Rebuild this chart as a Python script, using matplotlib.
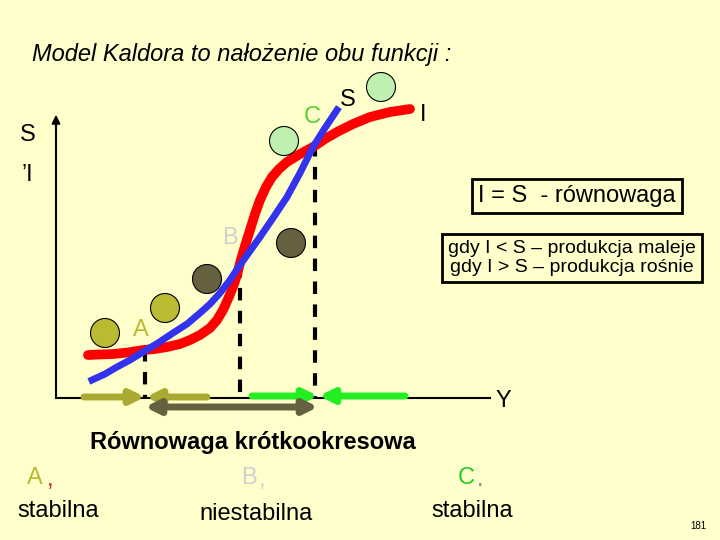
import matplotlib.pyplot as plt
from matplotlib.patches import Circle, FancyArrowPatch

plt.rcParams['font.family'] = ['Liberation Sans', 'DejaVu Sans']

bg = "#FFFFCC"

# curve I (investment) in pixel units
inv_x = [88, 100, 113, 128, 143, 155, 167, 180, 190, 200, 210, 217, 223, 228, 233, 237, 240,
         245, 250, 255, 260, 266, 272, 279, 287, 300, 313, 325, 337, 353, 370, 390, 410]
inv_y = [355, 354.5, 354, 352.5, 350, 349, 347, 344, 340, 335, 328, 320, 310, 299, 287, 275, 263,
         246, 230, 214, 200, 187, 177, 169, 162, 154, 147, 139, 132, 124, 117, 112, 109]

# curve S (savings)
sav_x = [92, 105, 117, 130, 143, 158, 173, 187, 200, 210, 220, 230, 240, 250, 260, 273, 287,
         300, 313, 325, 337]
sav_y = [380, 374, 367, 360, 352, 343, 333, 324, 313, 304, 293, 280, 265, 251, 237, 218, 197,
         173, 147, 128, 110]

# equilibrium points A, B, C
eq_x = [145, 240, 315]
eq_y = [349, 265, 144]

# balls
ball_x = [105, 165, 207, 291, 284, 381]
ball_y = [333, 308, 279, 243, 141, 87]
ball_c = ["#BBBB33", "#BBBB33", "#666040", "#666040", "#C0F0B0", "#C0F0B0"]

fig = plt.figure(figsize=(7.2, 5.4), dpi=100, facecolor=bg)
ax = fig.add_axes([0, 0, 1, 1])
ax.set_xlim(0, 720)
ax.set_ylim(540, 0)
ax.axis('off')
ax.set_facecolor(bg)

# axes
ax.plot([56, 490], [398, 398], color='black', lw=1.5)
ax.annotate('', xy=(56, 112), xytext=(56, 399),
            arrowprops=dict(arrowstyle='-|>', color='black', lw=1.5, mutation_scale=12))

# dashed drops
for x, y in zip(eq_x, eq_y):
    ax.plot([x, x], [y, 398], color='black', lw=3, ls=(0, (3, 2.5)), zorder=2)

ax.plot(inv_x, inv_y, color='#FF0000', lw=7, solid_capstyle='round',
        solid_joinstyle='round', zorder=3)
ax.plot(sav_x, sav_y, color='#3333EE', lw=5, solid_joinstyle='round', zorder=4)

for x, y, c in zip(ball_x, ball_y, ball_c):
    ax.add_patch(Circle((x, y), 14.5, facecolor=c, edgecolor='black', lw=0.8, zorder=5))

# arrows on the Y axis
def arr(x0, x1, y, color, style='-|>', lw=5):
    ax.add_patch(FancyArrowPatch((x0, y), (x1, y), arrowstyle=style, color=color,
                                 lw=lw, mutation_scale=20, shrinkA=0, shrinkB=0, zorder=6))

arr(84, 145, 397, '#AAAA33')
arr(207, 146, 397, '#AAAA33')
arr(252, 318, 396, '#22EE22')
arr(405, 319, 396, '#22EE22')
arr(145, 318, 407, '#666040', style='<|-|>')

fs = 17
# labels
ax.text(32, 55, "Model Kaldora to nałożenie obu funkcji :", fontsize=fs, style='italic', va='center')
ax.text(20, 135, "S", fontsize=fs, va='center')
ax.text(22, 175, "’I", fontsize=fs, va='center')
ax.text(304, 117, "C", fontsize=fs, color='#55CC33', va='center')
ax.text(340, 100, "S", fontsize=fs, va='center')
ax.text(420, 115, "I", fontsize=fs, va='center')
ax.text(222, 238, "B", fontsize=fs, color='#D0D0D0', va='center')
ax.text(133, 330, "A", fontsize=fs, color='#BBBB33', va='center')
ax.text(495, 401, "Y", fontsize=fs, va='center')

ax.text(577, 196, "I = S  - równowaga", fontsize=fs, ha='center', va='center',
        bbox=dict(boxstyle='square,pad=0.25', facecolor=bg, edgecolor='black', lw=2))
ax.text(572, 258, "gdy I < S – produkcja maleje\ngdy I > S – produkcja rośnie", fontsize=14,
        ha='center', va='center', linespacing=1.2,
        bbox=dict(boxstyle='square,pad=0.3', facecolor=bg, edgecolor='black', lw=2))

ax.text(253, 442, "Równowaga krótkookresowa", fontsize=fs, fontweight='bold', ha='center', va='center')

ax.text(27, 478, "A", fontsize=fs, color='#BBBB33', va='center')
ax.text(47, 480, ",", fontsize=fs, color='#CC2222', va='center')
ax.text(241, 478, "B", fontsize=fs, color='#D0D0D0', va='center')
ax.text(259, 480, ",", fontsize=fs, color='#D0D0D0', va='center')
ax.text(458, 478, "C", fontsize=fs, color='#22CC22', va='center')
ax.text(477, 480, ".", fontsize=fs, color='#888888', va='center')

ax.text(58, 511, "stabilna", fontsize=fs, ha='center', va='center')
ax.text(256, 514, "niestabilna", fontsize=fs, ha='center', va='center')
ax.text(472, 511, "stabilna", fontsize=fs, ha='center', va='center')
ax.text(698, 526, "181", fontsize=7, ha='center', va='center')

fig.savefig("out.png", dpi=100, facecolor=bg)
